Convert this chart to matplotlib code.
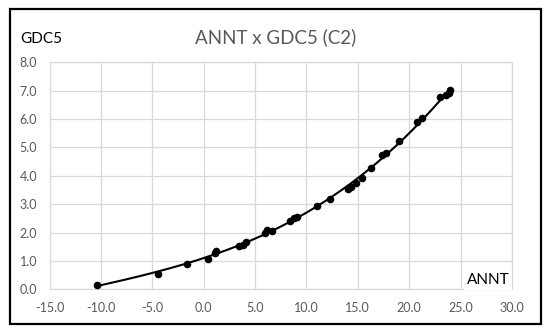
import matplotlib
matplotlib.use("Agg")
import matplotlib.pyplot as plt
from matplotlib.patches import Rectangle
import numpy as np

plt.rcParams['font.family'] = ['Lato', 'DejaVu Sans']

# Data
annt = [-10.4, -4.4, -1.6, 0.4, 1.1, 1.2, 3.4, 3.8, 4.1, 6.0, 6.15, 6.65,
        8.4, 8.8, 9.1, 11.0, 12.25, 14.0, 14.3, 14.8, 15.45, 16.3, 17.4,
        17.7, 19.05, 20.75, 21.25, 23.0, 23.6, 23.85, 24.0]
gdc5 = [0.15, 0.53, 0.88, 1.08, 1.27, 1.36, 1.52, 1.56, 1.68, 1.99, 2.09, 2.06,
        2.42, 2.50, 2.54, 2.94, 3.17, 3.52, 3.61, 3.73, 3.94, 4.26, 4.73,
        4.81, 5.23, 5.90, 6.02, 6.76, 6.84, 6.92, 7.04]

xticks = [-15, -10, -5, 0, 5, 10, 15, 20, 25, 30]
yticks = [0, 1, 2, 3, 4, 5, 6, 7, 8]
title = "ANNT x GDC5 (C2)"
xlabel = "ANNT"
ylabel = "GDC5"

fig = plt.figure(figsize=(5.5, 3.35), dpi=100)
ax = fig.add_axes([0.09, 0.1364, 0.8409, 0.6776])

ax.scatter(annt, gdc5, s=30, color='black', zorder=3, linewidths=0)

# Polynomial trendline (as in the spreadsheet chart)
coef = np.polyfit(annt, gdc5, 3)
xs = np.linspace(min(annt), max(annt), 200)
ax.plot(xs, np.polyval(coef, xs), color='black', lw=1.5, zorder=2)

ax.set_xlim(-15, 30)
ax.set_ylim(0, 8)
ax.set_xticks(xticks)
ax.set_yticks(yticks)
ax.set_xticklabels([f"{v:.1f}" for v in xticks])
ax.set_yticklabels([f"{v:.1f}" for v in yticks])
ax.tick_params(length=0, labelsize=9, colors='#595959')
ax.tick_params(axis='x', pad=9)
ax.tick_params(axis='y', pad=9)
ax.grid(True, color='#d9d9d9', lw=0.9)
ax.set_axisbelow(True)
for s in ax.spines.values():
    s.set_color('#d9d9d9')
    s.set_linewidth(0.9)

fig.text(0.502, 0.89, title, ha='center', va='center', fontsize=13.5, color='#595959')
fig.text(0.037, 0.883, ylabel, ha='left', va='center', fontsize=11, color='black')
ax.text(0.995, 0.04, xlabel, transform=ax.transAxes, ha='right', va='center',
        fontsize=11, color='black',
        bbox=dict(facecolor='white', edgecolor='none', pad=2))

fig.patches.append(Rectangle((0.0182, 0.0328), 0.9655, 0.9403, transform=fig.transFigure,
                             fill=False, edgecolor='black', lw=1.6))

fig.savefig('out.png', dpi=100)
